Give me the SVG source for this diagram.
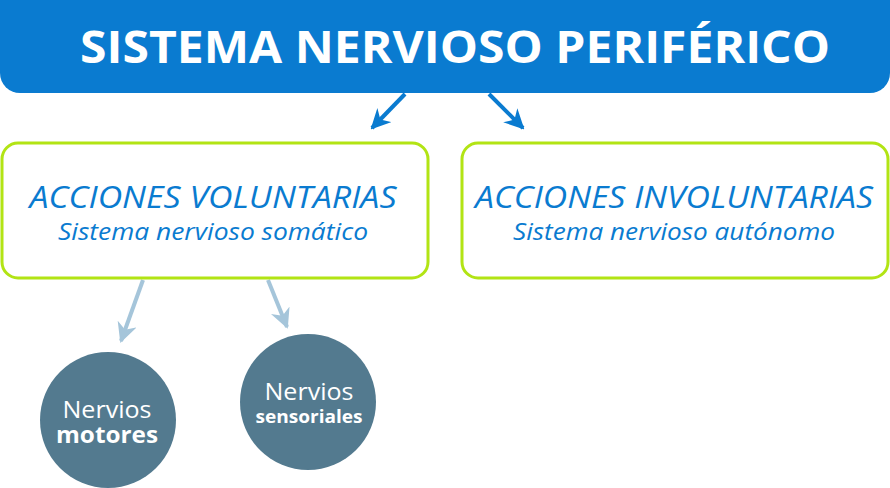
<svg xmlns="http://www.w3.org/2000/svg" width="890" height="488" viewBox="0 0 890 488">
<style>
.box{fill:#fff;stroke:#b2e414;stroke-width:3}
.h{font-family:"Open Sans","Liberation Sans",sans-serif;font-style:italic;fill:#0a7bd0;text-anchor:middle}
.c{fill:#537a8f}
.ct{font-family:"Open Sans","Liberation Sans",sans-serif;fill:#fff;text-anchor:middle}
.a1{stroke:#0a7bd0;stroke-width:4;fill:none}
.a2{stroke:#a5c5da;stroke-width:4;fill:none}
</style>
<defs>
<marker id="m1" viewBox="0 0 10 10" refX="9" refY="5" markerWidth="5" markerHeight="5" orient="auto" markerUnits="strokeWidth"><path d="M0,0 L10,5 L0,10 L3,5 Z" fill="#0a7bd0"/></marker>
<marker id="m2" viewBox="0 0 10 10" refX="9" refY="5" markerWidth="5" markerHeight="5" orient="auto" markerUnits="strokeWidth"><path d="M0,0 L10,5 L0,10 L3,5 Z" fill="#a5c5da"/></marker>
</defs>
<g id="header">
<rect x="0" y="-30" width="890" height="123" rx="20" fill="#0a7bd0"/>
<text x="455" y="63" font-family="Open Sans,Liberation Sans,sans-serif" font-weight="bold" font-size="44" fill="#fff" text-anchor="middle" textLength="750" lengthAdjust="spacingAndGlyphs">SISTEMA NERVIOSO PERIFÉRICO</text>
</g>
<g id="connectors">
<path class="a1" d="M405,94 L372,128" marker-end="url(#m1)"/>
<path class="a1" d="M489,94 L523,128" marker-end="url(#m1)"/>
<path class="a2" d="M143,280 L121,341" marker-end="url(#m2)"/>
<path class="a2" d="M268,280 L287,327" marker-end="url(#m2)"/>
</g>
<g id="voluntarias">
<rect class="box" x="2" y="143" width="426" height="135" rx="16"/>
<text class="h" x="213" y="208" font-size="31" textLength="367" lengthAdjust="spacingAndGlyphs">ACCIONES VOLUNTARIAS</text>
<text class="h" x="213" y="240" font-size="23" textLength="310" lengthAdjust="spacingAndGlyphs">Sistema nervioso somático</text>
</g>
<g id="involuntarias">
<rect class="box" x="462" y="143" width="426" height="135" rx="16"/>
<text class="h" x="674" y="208" font-size="31" textLength="398" lengthAdjust="spacingAndGlyphs">ACCIONES INVOLUNTARIAS</text>
<text class="h" x="674" y="240" font-size="23" textLength="322" lengthAdjust="spacingAndGlyphs">Sistema nervioso autónomo</text>
</g>
<g id="motores">
<circle class="c" cx="108" cy="420" r="68"/>
<text class="ct" x="107" y="418" font-size="23" textLength="89" lengthAdjust="spacingAndGlyphs">Nervios</text>
<text class="ct" x="107" y="443" font-size="23" font-weight="bold" textLength="102" lengthAdjust="spacingAndGlyphs">motores</text>
</g>
<g id="sensoriales">
<circle class="c" cx="308" cy="402" r="68"/>
<text class="ct" x="309" y="400" font-size="23" textLength="89" lengthAdjust="spacingAndGlyphs">Nervios</text>
<text class="ct" x="309" y="423" font-size="18" font-weight="bold" textLength="107" lengthAdjust="spacingAndGlyphs">sensoriales</text>
</g>
</svg>
